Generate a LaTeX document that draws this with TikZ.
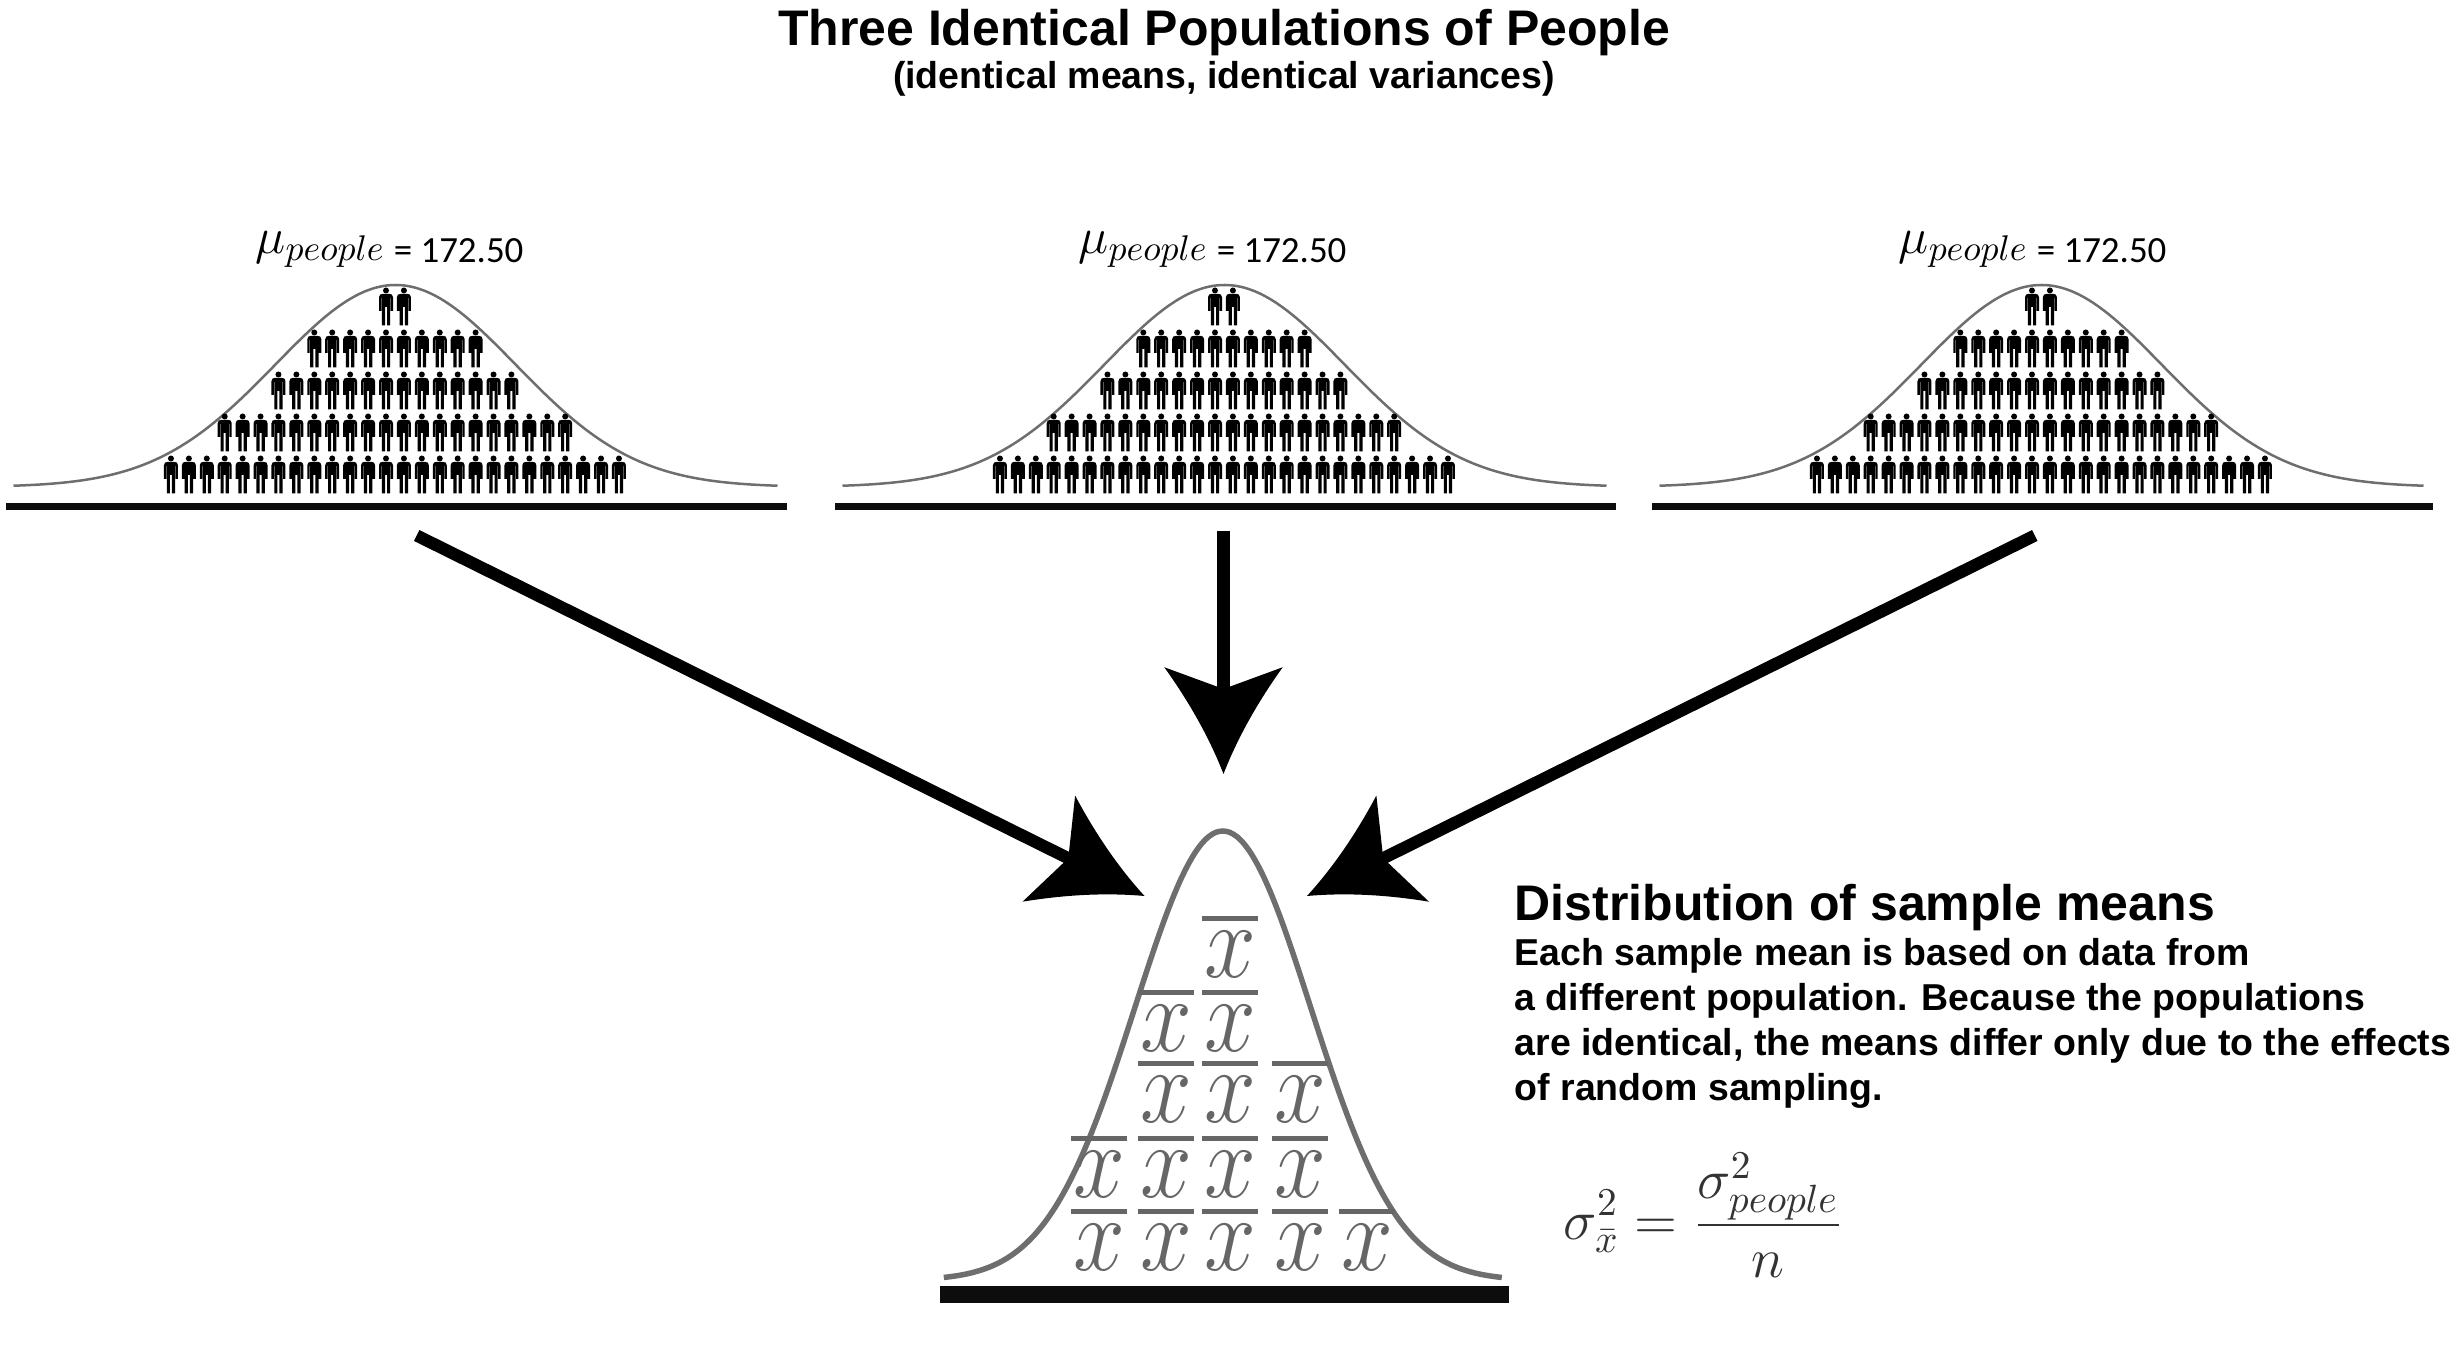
\documentclass[tikz,border=0pt]{standalone}
\usepackage{fix-cm}
\usepackage{graphicx}
\usepackage[no-math]{fontspec}
\setmainfont{Liberation Sans}
\newfontfamily\numfont{Carlito}
\usetikzlibrary{positioning}
\definecolor{curvegrey}{HTML}{6E6E6E}
\definecolor{xgrey}{HTML}{666666}
\definecolor{barblack}{HTML}{0D0D0D}
\definecolor{labelgrey}{HTML}{333333}

% head of the big arrows, tip at the origin
\pgfdeclarearrow{
  name = SweptHead,
  setup code = {
    \pgfarrowssettipend{0pt}
    \pgfarrowssetlineend{-23pt}
    \pgfarrowssetvisualbackend{-24pt}
    \pgfarrowssetbackend{-30.36pt}
    \pgfarrowshullpoint{0pt}{0pt}
    \pgfarrowshullpoint{-30.36pt}{16.84pt}
    \pgfarrowshullpoint{-30.36pt}{-16.84pt}
  },
  drawing code = {
    \pgfpathmoveto{\pgfpointorigin}
    \pgfpathcurveto{\pgfpoint{-10.1pt}{3.93pt}}{\pgfpoint{-20.2pt}{9.56pt}}{\pgfpoint{-30.36pt}{16.84pt}}
    \pgfpathlineto{\pgfpoint{-24.18pt}{0pt}}
    \pgfpathlineto{\pgfpoint{-30.36pt}{-16.84pt}}
    \pgfpathcurveto{\pgfpoint{-20.2pt}{-9.56pt}}{\pgfpoint{-10.1pt}{-3.93pt}}{\pgfpointorigin}
    \pgfpathclose
    \pgfusepathqfill
  }
}

% one stretched x with its bar
\newcommand{\xmeansym}{\makebox[0.56cm]{\scalebox{0.87}[1]{$x$}}\llap{\raisebox{0.565cm}{\rule{0.56cm}{0.05cm}}}}

\begin{document}
\begin{tikzpicture}[x=0.01cm, y=-0.01cm]
  % Styles
  \tikzstyle{basebar}=[draw=barblack, line width=0.073cm]
  \tikzstyle{samplebar}=[draw=barblack, line width=0.166cm]
  \tikzstyle{popcurve}=[draw=curvegrey, line width=0.025cm]
  \tikzstyle{samplecurve}=[draw=curvegrey, line width=0.055cm]
  \tikzstyle{flow}=[draw=black, line width=0.122cm, -{SweptHead}]
  \tikzstyle{mulabel}=[anchor=base west, inner sep=0pt, text=black]
  \tikzstyle{xmean}=[anchor=base, inner sep=0pt, text=xgrey, font=\fontsize{30.4}{31}\selectfont]
  \tikzset{person/.pic={
    \fill[black] (0,-34.8) circle[radius=3];
    \fill[black] (-3,-31.5) -- (3,-31.5) .. controls (5.5,-31.5) and (7,-30.5) .. (7,-28)
      -- (7,-14.3) -- (4.6,-14.3) -- (4.6,-27.5) -- (4.2,-27.5) -- (4.2,0) -- (1,0) -- (1,-18.4)
      -- (-1,-18.4) -- (-1,0) -- (-4.2,0) -- (-4.2,-27.5) -- (-4.6,-27.5) -- (-4.6,-14.3)
      -- (-7,-14.3) -- (-7,-28) .. controls (-7,-30.5) and (-5.5,-31.5) .. (-3,-31.5) -- cycle;
  }}
  \useasboundingbox (0,0) rectangle (2462,1364);

  % Title
  \node[anchor=base, inner sep=0pt, font=\fontsize{14.22}{18}\selectfont\bfseries] (title) at (1224,45.5) {Three Identical Populations of People};
  \node[anchor=base, inner sep=0pt, font=\fontsize{10.65}{13}\selectfont\bfseries] (subtitle) at (1224,89) {(identical means, identical variances)};

  % Populations
  \foreach \name/\dx/\mux in {A/0/255,B/829/1078,C/1646/1898} {
    \draw[basebar] (6+\dx,506.3) -- (787+\dx,506.3);
    \draw[popcurve] plot[domain=-382:382, samples=81, smooth] ({395.5+\dx+\x}, {487-202*exp(-0.5*(\x/120)*(\x/120))});
    \foreach \rowy/\first/\last in {493.3/-12/13,451.3/-9/10,409.3/-6/7,367.3/-4/5,325.3/0/1} {
      \foreach \k in {\first,...,\last} {
        \pic at ({386+\dx+17.92*\k},\rowy) {person};
      }
    }
    \node[mulabel] (mu\name) at (\mux,263) {\fontsize{14.5}{16}\selectfont\raisebox{2.75pt}{$\mu_{people}$}\,\fontsize{10.5}{12}\numfont= 172.50};
  }

  % Arrows
  \coordinate (fromA) at (416.7,535.5);
  \coordinate (fromB) at (1223.5,531);
  \coordinate (fromC) at (2034.8,535.5);
  \coordinate (tipA) at (1144.5,896);
  \coordinate (tipB) at (1223.5,774);
  \coordinate (tipC) at (1307,896);
  \draw[flow] (fromA) -- (tipA);
  \draw[flow] (fromB) -- (tipB);
  \draw[flow] (fromC) -- (tipC);

  % Sample means
  \draw[samplebar] (940,1294.3) -- (1509,1294.3);
  \draw[samplecurve] plot[domain=-279:279, samples=81, smooth] ({1222.8+\x}, {1280.4-449.4*exp(-0.5*(\x/88)*(\x/88))});
  \foreach \name/\col/\rowy in {a/1230/978, b/1166/1051.5, c/1230/1051.5, d/1166/1122.6, e/1230/1122.6, f/1300/1122.6,
      g/1099/1197.6, h/1166/1197.6, i/1230/1197.6, j/1300/1197.6, k/1099/1271, l/1166/1271, m/1230/1271, n/1300/1271, o/1367/1271} {
    \node[xmean] (xbar\name) at (\col,\rowy) {\xmeansym};
  }

  % Right text
  \node[anchor=base west, inner sep=0pt, font=\fontsize{14.22}{18}\selectfont\bfseries] (dist) at (1514,920.5) {Distribution of sample means};
  \node[anchor=north west, inner sep=0pt, align=left, font=\fontsize{10.65}{12.8}\selectfont\bfseries] (note) at (1514,937.5)
    {Each sample mean is based on data from\\a different population. Because the populations\\are identical, the means differ only due to the effects\\of random sampling.};
  \node[anchor=base west, inner sep=0pt, text=labelgrey, font=\fontsize{16}{19}\selectfont] (formula) at (1563,1239)
    {$\displaystyle\sigma_{\bar{x}}^{2}=\frac{\sigma_{people}^{2}}{n}$};
\end{tikzpicture}
\end{document}
